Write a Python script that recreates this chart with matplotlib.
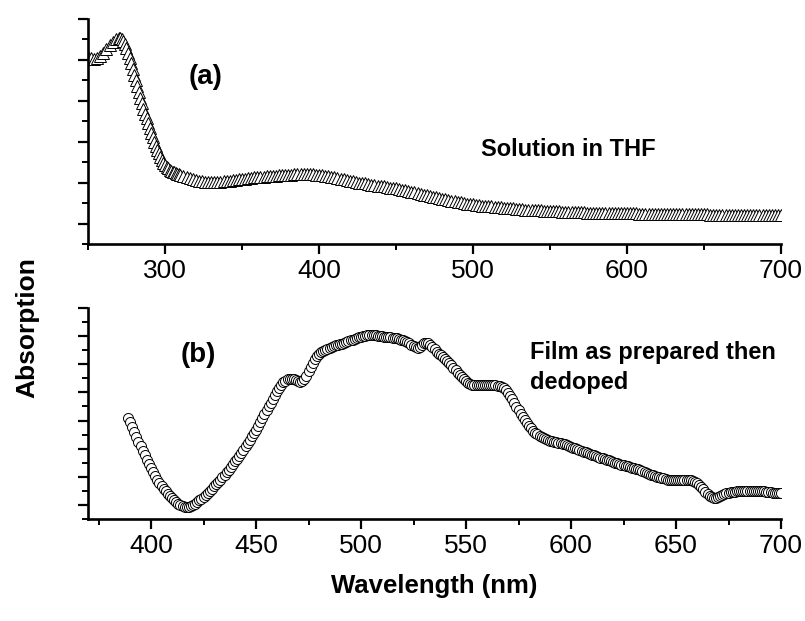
import numpy as np
import matplotlib
matplotlib.use("Agg")
import matplotlib.pyplot as plt
from matplotlib.ticker import MultipleLocator, NullFormatter

plt.rcParams['font.family'] = ['Liberation Sans', 'DejaVu Sans']

# ---------------- data: (a) solution in THF ----------------
# 250-268 nm, step 2
a_edge_vals = [4.07, 4.05, 4.03, 4.04, 4.10, 4.18, 4.27, 4.36, 4.44, 4.50]
# 270-310 nm, step 1
a_drop_vals = [4.53, 4.54, 4.52, 4.47, 4.39, 4.29, 4.18, 4.05, 3.92, 3.78,
               3.64, 3.50, 3.36, 3.22, 3.08, 2.94, 2.80, 2.68, 2.57, 2.46,
               2.34, 2.22, 2.11, 2.00, 1.90, 1.81, 1.72, 1.63, 1.55, 1.49,
               1.44, 1.39, 1.35, 1.32, 1.29, 1.27, 1.25, 1.24, 1.22, 1.21,
               1.19]
# 312-700 nm, step 2
a_tail_vals = [1.17, 1.14, 1.12, 1.09, 1.07, 1.05, 1.03, 1.02, 1.01, 1.01,
               1.01, 1.01, 1.02, 1.03, 1.04, 1.05, 1.06, 1.07, 1.08, 1.09,
               1.10, 1.11, 1.12, 1.13, 1.14, 1.14, 1.15, 1.16, 1.16, 1.17,
               1.17, 1.18, 1.18, 1.19, 1.19, 1.19, 1.20, 1.20, 1.20, 1.20,
               1.20, 1.20, 1.20, 1.19, 1.19, 1.18, 1.17, 1.16, 1.15, 1.13,
               1.12, 1.10, 1.08, 1.06, 1.04, 1.03, 1.02, 1.00, 0.99, 0.98,
               0.97, 0.95, 0.94, 0.93, 0.92, 0.91, 0.89, 0.88, 0.87, 0.86,
               0.84, 0.83, 0.81, 0.79, 0.78, 0.76, 0.74, 0.72, 0.71, 0.69,
               0.67, 0.66, 0.64, 0.62, 0.61, 0.59, 0.58, 0.56, 0.55, 0.53,
               0.52, 0.51, 0.49, 0.48, 0.47, 0.46, 0.45, 0.44, 0.43, 0.42,
               0.42, 0.41, 0.40, 0.40, 0.39, 0.38, 0.38, 0.37, 0.36, 0.36,
               0.35, 0.34, 0.34, 0.33, 0.33, 0.32, 0.32, 0.31, 0.31, 0.31,
               0.30, 0.30, 0.30, 0.29, 0.29, 0.29, 0.29, 0.28, 0.28, 0.28,
               0.28, 0.27, 0.27, 0.27, 0.27, 0.27, 0.26, 0.26, 0.26, 0.26,
               0.26, 0.25, 0.25, 0.25, 0.25, 0.25, 0.25, 0.25, 0.24, 0.24,
               0.24, 0.24, 0.24, 0.24, 0.24, 0.24, 0.24, 0.23, 0.23, 0.23,
               0.23, 0.23, 0.23, 0.23, 0.23, 0.23, 0.23, 0.23, 0.23, 0.23,
               0.23, 0.22, 0.22, 0.22, 0.22, 0.22, 0.22, 0.22, 0.22, 0.22,
               0.22, 0.22, 0.22, 0.22, 0.22, 0.22, 0.22, 0.22, 0.22, 0.22,
               0.22, 0.22, 0.22, 0.22, 0.22]

a_wl = np.concatenate([250 + 2 * np.arange(len(a_edge_vals)),
                       270 + np.arange(len(a_drop_vals)),
                       312 + 2 * np.arange(len(a_tail_vals))])
a_abs = np.array(a_edge_vals + a_drop_vals + a_tail_vals)

# ---------------- data: (b) film as prepared then dedoped ----------------
b_start = 389  # nm, step 1
b_vals = [3.08,
          2.96, 2.77, 2.58, 2.40, 2.24, 2.09, 1.93, 1.77, 1.61, 1.46,   # 390-399
          1.32, 1.18, 1.04, 0.90, 0.79, 0.68, 0.58, 0.49, 0.40, 0.32,   # 400-409
          0.24, 0.16, 0.09, 0.04, 0.00, -0.04, -0.06, -0.07, -0.06, -0.04,  # 410-419
          0.00, 0.05, 0.10, 0.16, 0.22, 0.29, 0.36, 0.43, 0.50, 0.58,   # 420-429
          0.66, 0.74, 0.82, 0.90, 0.98, 1.07, 1.16, 1.25, 1.35, 1.45,   # 430-439
          1.55, 1.65, 1.75, 1.86, 1.97, 2.08, 2.20, 2.32, 2.44, 2.56,   # 440-449
          2.68, 2.81, 2.94, 3.08, 3.22, 3.36, 3.50, 3.64, 3.78, 3.92,   # 450-459
          4.05, 4.17, 4.27, 4.36, 4.42, 4.46, 4.48, 4.48, 4.47, 4.44,   # 460-469
          4.40, 4.38, 4.40, 4.48, 4.60, 4.75, 4.90, 5.05, 5.18, 5.28,   # 470-479
          5.36, 5.42, 5.47, 5.51, 5.55, 5.58, 5.61, 5.64, 5.67, 5.69,   # 480-489
          5.71, 5.73, 5.76, 5.79, 5.82, 5.85, 5.88, 5.91, 5.94, 5.96,   # 490-499
          5.98, 6.00, 6.02, 6.04, 6.05, 6.05, 6.04, 6.03, 6.01, 6.00,   # 500-509
          5.99, 5.98, 5.97, 5.97, 5.96, 5.95, 5.94, 5.93, 5.91, 5.88,   # 510-519
          5.85, 5.82, 5.79, 5.74, 5.69, 5.64, 5.60, 5.59, 5.62, 5.68,   # 520-529
          5.74, 5.77, 5.75, 5.69, 5.61, 5.53, 5.45, 5.38, 5.32, 5.25,   # 530-539
          5.19, 5.12, 5.05, 4.96, 4.87, 4.78, 4.69, 4.61, 4.53, 4.46,   # 540-549
          4.40, 4.35, 4.31, 4.28, 4.27, 4.27, 4.27, 4.27, 4.27, 4.27,   # 550-559
          4.27, 4.27, 4.27, 4.26, 4.25, 4.24, 4.22, 4.19, 4.14, 4.07,   # 560-569
          3.98, 3.87, 3.75, 3.62, 3.49, 3.36, 3.24, 3.12, 3.01, 2.91,   # 570-579
          2.81, 2.72, 2.64, 2.57, 2.51, 2.46, 2.42, 2.38, 2.35, 2.32,   # 580-589
          2.29, 2.27, 2.25, 2.23, 2.21, 2.19, 2.17, 2.15, 2.13, 2.10,   # 590-599
          2.07, 2.04, 2.01, 1.98, 1.95, 1.92, 1.89, 1.87, 1.84, 1.81,   # 600-609
          1.79, 1.76, 1.73, 1.71, 1.68, 1.66, 1.63, 1.61, 1.58, 1.55,   # 610-619
          1.53, 1.50, 1.48, 1.45, 1.43, 1.41, 1.39, 1.37, 1.35, 1.33,   # 620-629
          1.31, 1.29, 1.26, 1.23, 1.20, 1.17, 1.14, 1.11, 1.08, 1.05,   # 630-639
          1.03, 1.00, 0.98, 0.96, 0.94, 0.92, 0.90, 0.88, 0.87, 0.87,   # 640-649
          0.87, 0.88, 0.89, 0.89, 0.89, 0.89, 0.89, 0.88, 0.86, 0.83,   # 650-659
          0.78, 0.72, 0.64, 0.55, 0.46, 0.38, 0.31, 0.27, 0.25, 0.26,   # 660-669
          0.29, 0.33, 0.37, 0.40, 0.42, 0.44, 0.45, 0.46, 0.47, 0.48,   # 670-679
          0.48, 0.49, 0.50, 0.50, 0.51, 0.51, 0.51, 0.51, 0.51, 0.50,   # 680-689
          0.50, 0.49, 0.48, 0.47, 0.46, 0.45, 0.44, 0.44, 0.43, 0.43,   # 690-699
          0.43]                                                         # 700
b_wl = b_start + np.arange(len(b_vals))
b_abs = np.array(b_vals)

# ---------------- figure ----------------
W, H = 805, 621
fig = plt.figure(figsize=(W / 100, H / 100), dpi=100)

def px_axes(left, top, right, bottom):
    return fig.add_axes([left / W, 1 - bottom / H, (right - left) / W, (bottom - top) / H])

ax1 = px_axes(88, 19, 781, 244)
ax2 = px_axes(88, 308, 781, 519)

for ax in (ax1, ax2):
    for s in ('top', 'right'):
        ax.spines[s].set_visible(False)
    for s in ('left', 'bottom'):
        ax.spines[s].set_linewidth(1.9)
    ax.tick_params(which='major', direction='out', length=7, width=1.6, labelsize=19, pad=3.5)
    ax.tick_params(which='minor', direction='out', length=4, width=1.4)
    ax.yaxis.set_major_locator(MultipleLocator(1))
    ax.yaxis.set_minor_locator(MultipleLocator(0.5))
    ax.yaxis.set_major_formatter(NullFormatter())

ax1.plot(a_wl, a_abs, linestyle='none', marker='^', markersize=8,
         markerfacecolor='white', markeredgecolor='black', markeredgewidth=0.7)
ax1.set_xlim(250, 700)
ax1.set_ylim(-0.5, 5.0)
ax1.xaxis.set_major_locator(MultipleLocator(100))
ax1.xaxis.set_minor_locator(MultipleLocator(50))
ax1.set_xticks([300, 400, 500, 600, 700])
ax1.text(0.169, 0.742, '(a)', transform=ax1.transAxes, fontsize=20, fontweight='bold',
         ha='center', va='center')
ax1.text(0.567, 0.418, 'Solution in THF', transform=ax1.transAxes, fontsize=17,
         fontweight='bold', ha='left', va='center')

ax2.plot(b_wl, b_abs, linestyle='none', marker='o', markersize=7.2,
         markerfacecolor='white', markeredgecolor='black', markeredgewidth=0.7)
ax2.set_xlim(370, 700)
ax2.set_ylim(-0.5, 7.0)
ax2.xaxis.set_major_locator(MultipleLocator(50))
ax2.xaxis.set_minor_locator(MultipleLocator(25))
ax2.set_xticks([400, 450, 500, 550, 600, 650, 700])
ax2.text(0.159, 0.777, '(b)', transform=ax2.transAxes, fontsize=20, fontweight='bold',
         ha='center', va='center')
ax2.text(0.638, 0.845, 'Film as prepared then\ndedoped', transform=ax2.transAxes,
         fontsize=17, fontweight='bold', ha='left', va='top', linespacing=1.4)

fig.text(27 / W, 1 - 328 / H, 'Absorption', rotation=90, fontsize=19, fontweight='bold',
         ha='center', va='center')
fig.text(434 / W, 1 - 593 / H, 'Wavelength (nm)', fontsize=18.5, fontweight='bold',
         ha='center', va='baseline')

fig.savefig('out.png', dpi=100)
